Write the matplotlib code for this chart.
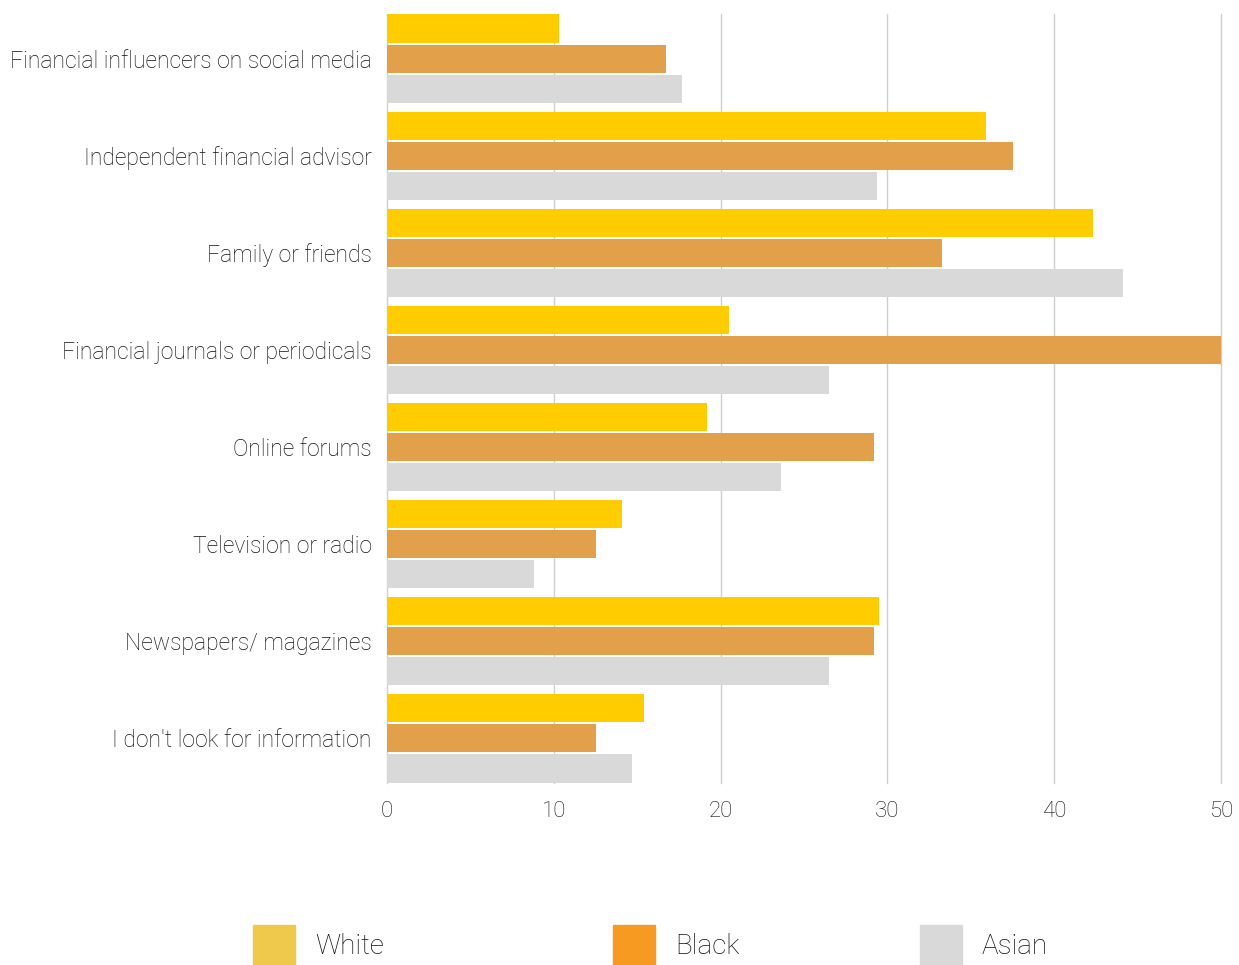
import matplotlib.pyplot as plt
from matplotlib.patches import Rectangle

categories = ["Financial influencers on social media", "Independent financial advisor",
              "Family or friends", "Financial journals or periodicals", "Online forums",
              "Television or radio", "Newspapers/ magazines", "I don't look for information"]
white = [10.3, 35.9, 42.3, 20.5, 19.2, 14.1, 29.5, 15.4]
black = [16.7, 37.5, 33.3, 50.5, 29.2, 12.5, 29.2, 12.5]
asian = [17.7, 29.4, 44.1, 26.5, 23.6, 8.8, 26.5, 14.7]
series = ["White", "Black", "Asian"]
bar_colors = ["#FFCC00", "#E3A04B", "#D9D9D9"]
legend_colors = ["#EFC94C", "#F79A22", "#D9D9D9"]

plt.rcParams['font.family'] = ['Roboto', 'DejaVu Sans']

W, H = 1239, 965
fig = plt.figure(figsize=(W / 100, H / 100), dpi=100)
ax = fig.add_axes([387 / W, 1 - 783 / H, (1221 - 387) / W, (783 - 14) / H])

h = 0.29
off = 0.31
ys = list(range(len(categories)))
for i, (vals, c) in enumerate(zip([white, black, asian], bar_colors)):
    ax.barh([y + (i - 1) * off for y in ys], vals, height=h, color=c, zorder=2)

ax.set_xlim(0, 50)
ax.set_ylim(len(categories) - 0.54, -0.46)
ax.set_yticks(ys)
ax.set_yticklabels(categories, fontsize=16.5, fontweight='light', color='#111111')
ax.set_xticks(range(0, 51, 10))
ax.tick_params(axis='x', labelsize=16, length=0, pad=13, labelcolor='#111111')
ax.tick_params(axis='y', length=0, pad=11)
for lbl in ax.get_xticklabels():
    lbl.set_fontweight('light')
for s in ax.spines.values():
    s.set_visible(False)
for t in range(0, 51, 10):
    ax.axvline(t, color='#CFCFCF', linewidth=1, zorder=0, clip_on=False)

# legend
sq_x = [253, 613, 920]
for name, c, x in zip(series, legend_colors, sq_x):
    fig.add_artist(Rectangle((x / W, 1 - 965 / H), 42 / W, 40 / H,
                             transform=fig.transFigure, color=c))
    fig.text((x + 62) / W, 1 - 946 / H, name, fontsize=20, fontweight='light',
             va='center', ha='left', color='#111111')

fig.savefig("out.png", dpi=100)
